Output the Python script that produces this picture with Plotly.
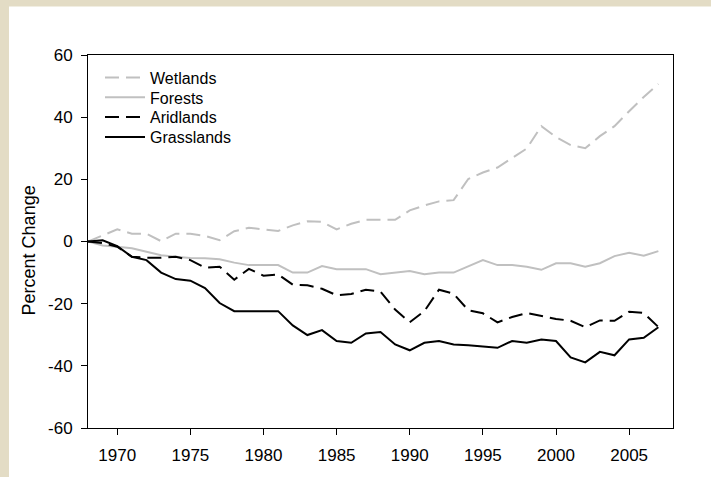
import plotly.graph_objects as go

years = list(range(1968, 2008))

wetlands = [0, 2, 3.9, 2.5, 2.5, 0.1, 2.5, 2.5, 1.8, 0.4, 3.3, 4.4, 3.8, 3.4, 5.2, 6.5,
            6.3, 3.9, 5.7, 7.0, 7.0, 7.0, 10.0, 11.6, 12.9, 13.3, 20.1, 22.2, 23.8, 26.8,
            29.9, 37.1, 33.6, 31.0, 30.0, 33.9, 37.1, 41.9, 46.5, 50.7]

forests = [0, -1.3, -1.7, -2.2, -3.3, -4.4, -4.9, -5.3, -5.4, -5.7, -6.8, -7.6, -7.6, -7.6,
           -10.0, -10.0, -7.9, -8.9, -8.9, -8.9, -10.5, -10.0, -9.5, -10.5, -10.0, -10.0,
           -8.1, -6.0, -7.6, -7.6, -8.1, -9.1, -7.0, -7.0, -8.1, -7.0, -4.7, -3.6, -4.6, -3.1]

aridlands = [0, -0.5, -1.7, -4.9, -5.2, -5.2, -4.9, -6.0, -8.4, -8.1, -12.3, -8.8, -11.0,
             -10.6, -13.9, -14.1, -15.2, -17.3, -16.9, -15.5, -16.1, -21.9, -26.0, -22.4,
             -15.5, -16.8, -22.1, -23.1, -26.0, -24.3, -23.0, -23.9, -24.9, -25.5, -27.6,
             -25.4, -25.5, -22.6, -23.0, -27.5]

grasslands = [0, 0.4, -1.5, -4.9, -6.0, -10.0, -12.1, -12.6, -15.0, -19.8, -22.4, -22.4,
              -22.3, -22.4, -27.0, -30.1, -28.5, -32.0, -32.6, -29.6, -29.1, -33.1, -35.0,
              -32.6, -32.0, -33.1, -33.4, -33.8, -34.2, -32.0, -32.6, -31.5, -32.0, -37.3,
              -38.9, -35.5, -36.6, -31.5, -31.0, -27.6]

x_ticks = [1970, 1975, 1980, 1985, 1990, 1995, 2000, 2005]
y_ticks = [-60, -40, -20, 0, 20, 40, 60]
y_tick_text = ["-60", "-40", "-20", "0", "20", "40", "60"]
y_title = "Percent Change"

FONT = "Liberation Sans, Arial, sans-serif"
GREY = "#c0c0c0"

L, R, T, B = 88, 38, 55, 46
W, H = 711, 477
pw = W - L - R
ph = H - T - B

fig = go.Figure()
fig.add_trace(go.Scatter(x=years, y=wetlands, mode="lines", name="Wetlands", legend="legend",
                         line=dict(color=GREY, width=2, dash="14px,7px")))
fig.add_trace(go.Scatter(x=years, y=forests, mode="lines", name="Forests", legend="legend2",
                         line=dict(color=GREY, width=2)))
fig.add_trace(go.Scatter(x=years, y=aridlands, mode="lines", name="Aridlands", legend="legend3",
                         line=dict(color="black", width=2, dash="14px,7px")))
fig.add_trace(go.Scatter(x=years, y=grasslands, mode="lines", name="Grasslands", legend="legend4",
                         line=dict(color="black", width=2)))

# zero reference line
fig.add_shape(type="line", xref="paper", yref="y", x0=0, x1=1, y0=0, y1=0,
              line=dict(color="black", width=1, dash="7px,4px"), layer="below")
# white card on beige background
fig.add_shape(type="rect", xref="paper", yref="paper",
              x0=-(L - 9) / pw, x1=1 + (R + 5) / pw,
              y0=-(B + 5) / ph, y1=1 + (T - 6) / ph,
              fillcolor="white", line=dict(width=0), layer="below")

# y-axis title
fig.add_annotation(text=y_title, xref="paper", yref="paper",
                   x=(29 - L) / pw, y=1 - (252 - T) / ph,
                   xanchor="center", yanchor="middle", textangle=-90, showarrow=False,
                   font=dict(size=18, family=FONT, color="black"))


def leg(row_center_px):
    return dict(x=(100 - L) / pw, y=1 - (row_center_px - T) / ph,
                xanchor="left", yanchor="middle",
                bgcolor="rgba(0,0,0,0)", font=dict(size=16, family=FONT, color="black"),
                itemwidth=40)


fig.update_layout(
    width=W, height=H,
    margin=dict(l=L, r=R, t=T, b=B),
    paper_bgcolor="#e3dcc5",
    plot_bgcolor="white",
    font=dict(family=FONT, size=17, color="black"),
    showlegend=True,
    legend=leg(77.7),
    legend2=leg(97.7),
    legend3=leg(117.7),
    legend4=leg(137.7),
    xaxis=dict(range=[1968, 2008], tickvals=x_ticks, ticks="outside", ticklen=6,
               tickcolor="black", showline=True, linecolor="black", linewidth=1,
               mirror=True, showgrid=False, zeroline=False, ticklabelstandoff=6,
               tickfont=dict(size=17, family=FONT)),
    yaxis=dict(range=[-60, 60], tickvals=y_ticks, ticktext=y_tick_text,
               ticks="outside", ticklen=6,
               tickcolor="black", showline=True, linecolor="black", linewidth=1,
               mirror=True, showgrid=False, zeroline=False, ticklabelstandoff=5,
               tickfont=dict(size=17, family=FONT)),
)

fig.write_html("out.html", config={"displayModeBar": False},
               post_script="document.body.style.margin='0px';")
